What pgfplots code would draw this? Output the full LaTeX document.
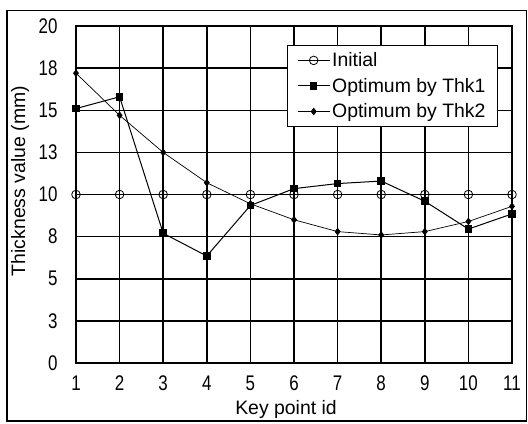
\documentclass[border=0pt]{standalone}
\usepackage{fontspec}
\setmainfont{Liberation Sans}
\usepackage{graphicx}
\usepackage{pgfplots}
\pgfplotsset{compat=1.18}
\newcommand\tl[1]{\scalebox{1}[1.25]{#1}}
\begin{document}
\begin{tikzpicture}
\begin{axis}[
  scale only axis, width=436bp, height=337bp,
  xmin=1, xmax=11, ymin=0, ymax=20,
  clip=false,
  xtick={1,2,3,4,5,6,7,8,9,10,11},
  xticklabels={\tl{1},\tl{2},\tl{3},\tl{4},\tl{5},\tl{6},\tl{7},\tl{8},\tl{9},\tl{10},\tl{11}},
  ytick={0,2.5,5,7.5,10,12.5,15,17.5,20},
  yticklabels={\tl{0},\tl{3},\tl{5},\tl{8},\tl{10},\tl{13},\tl{15},\tl{18},\tl{20}},
  grid=major, major grid style={black, line width=1.5bp},
  major tick length=0pt,
  axis line style={black, line width=1.5bp},
  tick label style={font=\fontsize{17}{18}\selectfont},
  xticklabel style={yshift=-9bp},
  yticklabel style={xshift=-15bp},
  xlabel={Key point id},
  ylabel={Thickness value (mm)},
  label style={font=\fontsize{19.5}{21}\selectfont},
  xlabel style={at={(rel axis cs:0.4817,-0.139)}, anchor=center},
  ylabel style={at={(rel axis cs:-0.128,0.54)}, anchor=center},
  legend style={at={(rel axis cs:0.968,0.9436)}, anchor=north east,
    draw=black, line width=1.2bp, fill=white,
    font=\fontsize{19.5}{21}\selectfont, row sep=6bp,
    inner xsep=10bp, inner ysep=5bp},
  legend cell align=left,
  legend image code/.code={\draw[mark repeat=2,mark phase=2,#1] plot coordinates {(0bp,0bp)(16bp,0bp)(32bp,0bp)};},
]
\addplot[black, line width=0.8bp, mark=o, mark options={fill=white, line width=0.8bp}, mark size=4.3bp]
  coordinates {(1,10)(2,10)(3,10)(4,10)(5,10)(6,10)(7,10)(8,10)(9,10)(10,10)(11,10)};
\addlegendentry{Initial}
\addplot[black, line width=1bp, mark=square*, mark size=3.3bp]
  coordinates {(1,15.1)(2,15.8)(3,7.7)(4,6.35)(5,9.35)(6,10.35)(7,10.65)(8,10.8)(9,9.6)(10,7.95)(11,8.85)};
\addlegendentry{Optimum by Thk1}
\addplot[black, line width=0.7bp, mark=diamond*, mark size=3.3bp]
  coordinates {(1,17.2)(2,14.7)(3,12.5)(4,10.7)(5,9.45)(6,8.5)(7,7.8)(8,7.6)(9,7.8)(10,8.4)(11,9.3)};
\addlegendentry{Optimum by Thk2}
\coordinate (bl) at (rel axis cs:-0.1743,-0.178);
\coordinate (tr) at (rel axis cs:1.0367,1.0772);
\coordinate (fbl) at (rel axis cs:-0.1583,-0.1721);
\coordinate (ftr) at (rel axis cs:1.0333,1.046);
\end{axis}
\draw[black, line width=1.2bp] (fbl) rectangle (ftr);
\pgfresetboundingbox
\path[use as bounding box] (bl) rectangle (tr);
\end{tikzpicture}
\end{document}
